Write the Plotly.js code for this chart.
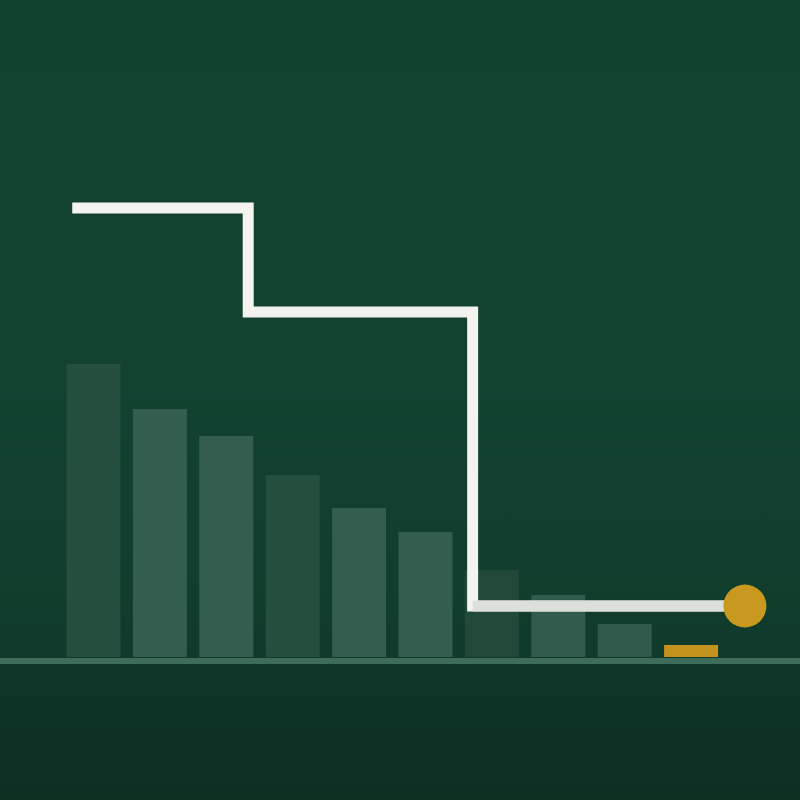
<!DOCTYPE html>
<html>
<head>
<meta charset="utf-8">
<script src="https://cdn.plot.ly/plotly-3.0.1.min.js"></script>
<style>
  html, body { margin: 0; padding: 0; }
  body { width: 800px; height: 800px; overflow: hidden;
    background: linear-gradient(180deg, #13412f 0%, #134231 45%, #113d2d 75%, #103a2b 82%, #0e3527 83%, #0c2f22 100%); }
  #chart { width: 800px; height: 800px; }
</style>
</head>
<body>
<div id="chart"></div>
<script>
// Bar categories (positions 0..9) and heights
const barX = [0, 1, 2, 3, 4, 5, 6, 7, 8, 9];
const barValues = [29.3, 24.8, 22.1, 18.2, 14.9, 12.5, 8.7, 6.2, 3.3, 1.2];
const barColors = ['#244f3f', '#335e4f', '#335e4f', '#244f3f', '#335e4f', '#335e4f', '#22493a', '#315c4d', '#2f594a', '#c4921f'];

// Step line (horizontal-then-vertical steps)
const stepX = [-0.32, 2.33, 5.71, 9.81];
const stepY = [44.9, 34.5, 5.1, 5.1];

const traces = [
  {
    type: 'bar', x: barX, y: barValues,
    marker: { color: barColors, line: { width: 0 } },
    hoverinfo: 'skip'
  },
  {
    type: 'scatter', mode: 'lines', x: stepX, y: stepY,
    line: { shape: 'hv', color: '#f4f3ed', width: 11 },
    hoverinfo: 'skip'
  },
  {
    type: 'scatter', mode: 'lines', x: stepX.slice(2), y: stepY.slice(2),
    line: { color: '#dcdfda', width: 11 },
    hoverinfo: 'skip'
  },
  {
    type: 'scatter', mode: 'markers', x: stepX.slice(-1), y: stepY.slice(-1),
    marker: { color: '#c8981f', size: 43, line: { width: 0 } },
    hoverinfo: 'skip'
  }
];

const layout = {
  width: 800, height: 800,
  margin: { l: 0, r: 0, t: 0, b: 0 },
  paper_bgcolor: 'rgba(0,0,0,0)',
  plot_bgcolor: 'rgba(0,0,0,0)',
  showlegend: false,
  bargap: 0.187,
  xaxis: { range: [-1.408, 10.64], visible: false, fixedrange: true },
  yaxis: { range: [-14.3, 65.7], visible: false, fixedrange: true },
  shapes: [
    { type: 'rect', xref: 'paper', x0: 0, x1: 1, yref: 'y', y0: -0.7, y1: -0.1,
      fillcolor: '#3d6c5b', line: { width: 0 }, layer: 'below' }
  ]
};

Plotly.newPlot('chart', traces, layout, { staticPlot: true, displayModeBar: false });
</script>
</body>
</html>
